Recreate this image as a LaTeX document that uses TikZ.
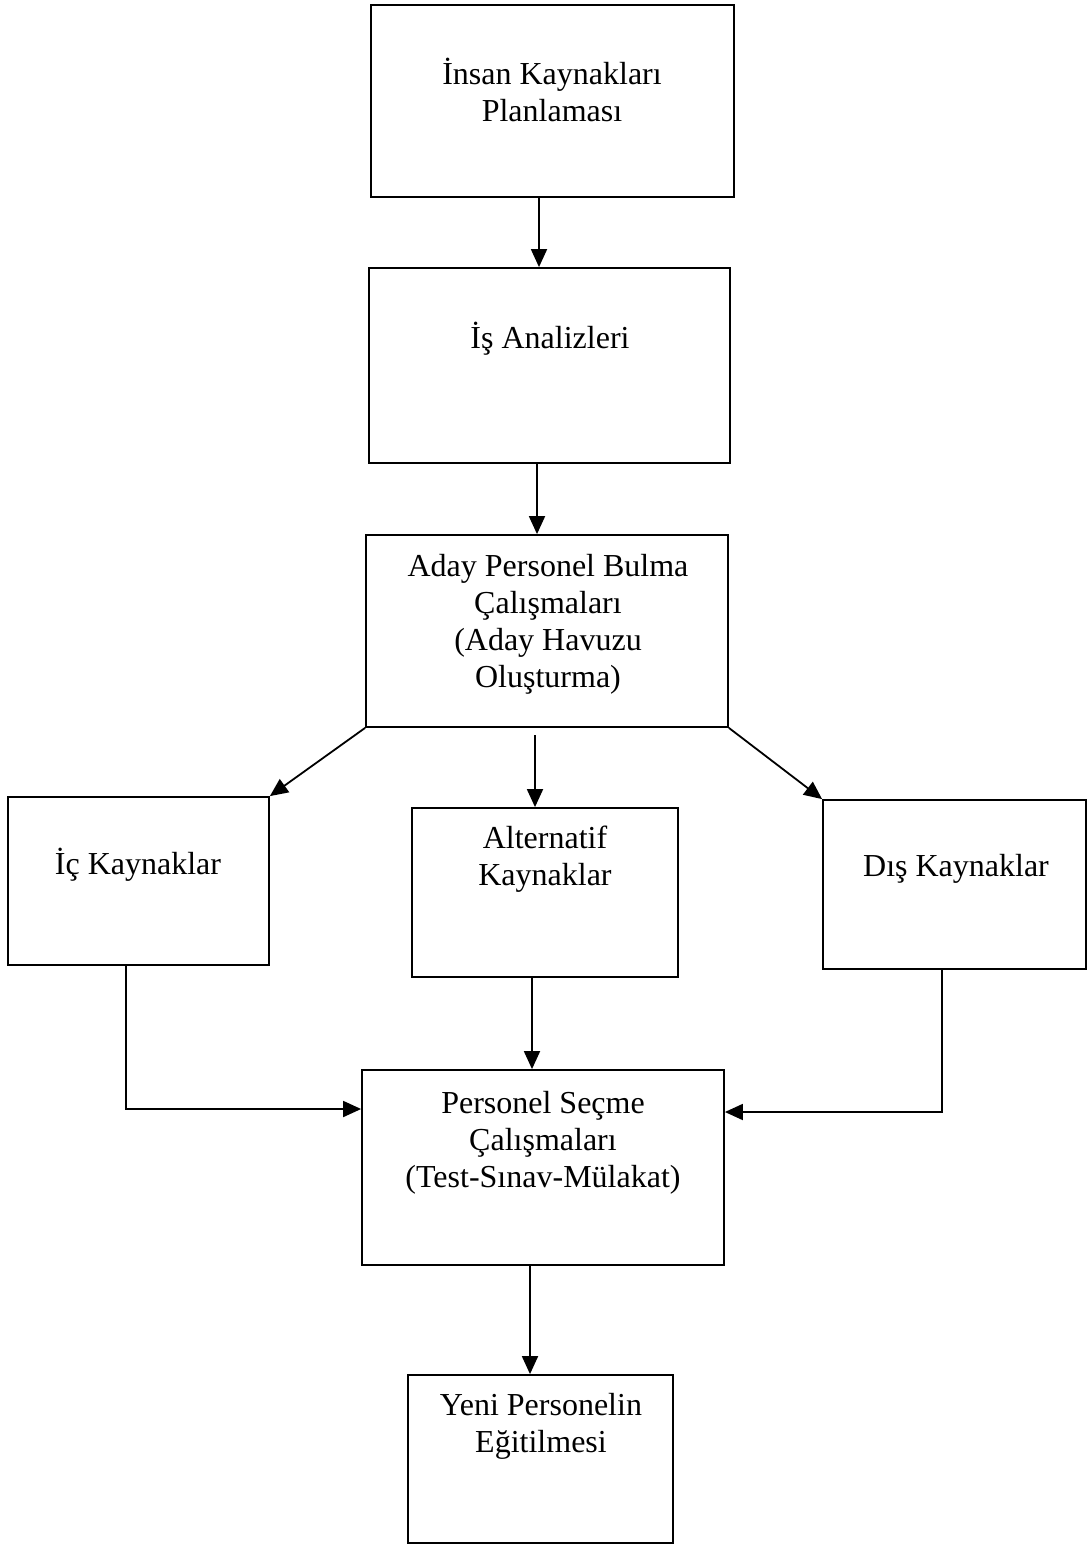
\documentclass[tikz,border=0pt]{standalone}
\usepackage{fontspec}
\setmainfont{Liberation Serif}
\usetikzlibrary{arrows.meta, calc}

\begin{document}
\begin{tikzpicture}[
    x=1pt, y=-1pt,
    stage/.style={rectangle, draw=black, line width=1.8pt, inner sep=0pt},
    boxtext/.style={align=center, font=\fontsize{32}{37}\selectfont, inner sep=0pt},
    arrow/.style={-{Triangle[length=18pt, width=16pt]}, line width=1.8pt}
]
\useasboundingbox (0,0) rectangle (1088,1546);

% Stages
\node[stage, minimum width=363pt, minimum height=192pt] (ikp) at (552.5,101) {};
\node[stage, minimum width=361pt, minimum height=195pt] (isa) at (549.5,365.5) {};
\node[stage, minimum width=362pt, minimum height=192pt] (apb) at (547,631) {};
\node[stage, minimum width=261pt, minimum height=168pt] (ick) at (138.5,881) {};
\node[stage, minimum width=266pt, minimum height=169pt] (alk) at (545,892.5) {};
\node[stage, minimum width=263pt, minimum height=169pt] (dik) at (954.5,884.5) {};
\node[stage, minimum width=362pt, minimum height=195pt] (psc) at (543,1167.5) {};
\node[stage, minimum width=265pt, minimum height=168pt] (ype) at (540.5,1459) {};

% Texts
\node[boxtext] at (552,90) {İnsan Kaynakları\\Planlaması};
\node[boxtext] at (550,339) {İş Analizleri};
\node[boxtext] at (548,624) {Aday Personel Bulma\\Çalışmaları\\(Aday Havuzu\\Oluşturma)};
\node[boxtext] at (138,865) {İç Kaynaklar};
\node[boxtext] at (545,859) {Alternatif\\Kaynaklar};
\node[boxtext] at (956,869) {Dış Kaynaklar};
\node[boxtext] at (543,1143) {Personel Seçme\\Çalışmaları\\(Test-Sınav-Mülakat)};
\node[boxtext] at (541,1426) {Yeni Personelin\\Eğitilmesi};

% Connector positions
\coordinate (c1) at (539,0);
\coordinate (c2) at (537,0);
\coordinate (c3) at (535,735);
\coordinate (c4) at (532,0);
\coordinate (c5) at (530,0);
\coordinate (icbend) at (126,1109);
\coordinate (dibend) at (942,1112);

% Arrows
\draw[arrow] (ikp.south -| c1) -- (isa.north -| c1);
\draw[arrow] (isa.south -| c2) -- (apb.north -| c2);
\draw[arrow] (apb.south west) -- (ick.north east);
\draw[arrow] (c3) -- (alk.north -| c3);
\draw[arrow] (apb.south east) -- (dik.north west);
\draw[arrow] (alk.south -| c4) -- (psc.north -| c4);
\draw[arrow] (ick.south -| icbend) |- (psc.west |- icbend);
\draw[arrow] (dik.south -| dibend) |- (psc.east |- dibend);
\draw[arrow] (psc.south -| c5) -- (ype.north -| c5);

\end{tikzpicture}
\end{document}
